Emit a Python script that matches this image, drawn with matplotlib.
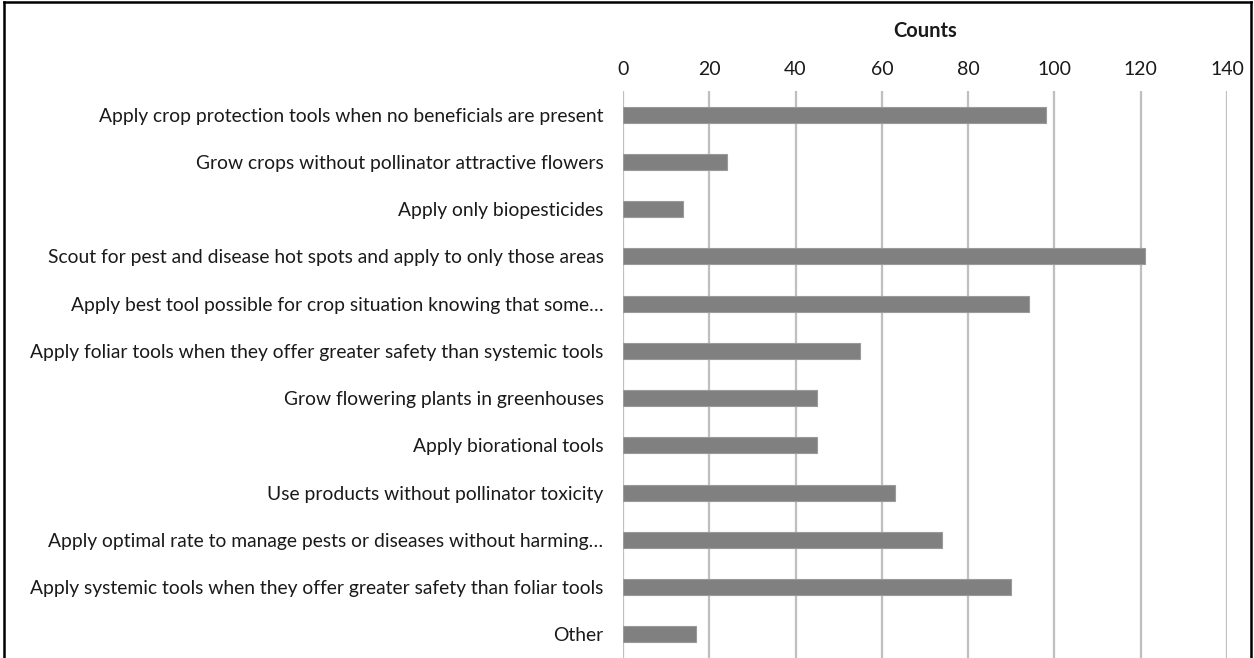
import matplotlib
matplotlib.use("Agg")
import matplotlib.pyplot as plt

categories = [
    "Apply crop protection tools when no beneficials are present",
    "Grow crops without pollinator attractive flowers",
    "Apply only biopesticides",
    "Scout for pest and disease hot spots and apply to only those areas",
    "Apply best tool possible for crop situation knowing that some\u2026",
    "Apply foliar tools when they offer greater safety than systemic tools",
    "Grow flowering plants in greenhouses",
    "Apply biorational tools",
    "Use products without pollinator toxicity",
    "Apply optimal rate to manage pests or diseases without harming\u2026",
    "Apply systemic tools when they offer greater safety than foliar tools",
    "Other",
]
counts = [98, 24, 14, 121, 94, 55, 45, 45, 63, 74, 90, 17]
xticks = [0, 20, 40, 60, 80, 100, 120, 140]
axis_title = "Counts"

plt.rcParams['font.family'] = ['Lato', 'DejaVu Sans']

fig = plt.figure(figsize=(12.54, 6.58), dpi=100)
ax = fig.add_axes([0.4968, 0.0, 0.9785 - 0.4968, 0.8617])

y = list(range(len(categories)))
ax.barh(y, counts, height=0.34, color="#808080", edgecolor="#9a9a9a", linewidth=0.8, zorder=3)
ax.set_ylim(len(categories) - 0.5, -0.5)
ax.set_xlim(0, 140)
ax.set_xticks(xticks)
ax.set_yticks(y)
ax.set_yticklabels(categories, fontsize=13.85, color="#1a1a1a")
ax.xaxis.tick_top()
ax.xaxis.set_label_position("top")
ax.set_xlabel(axis_title, fontsize=14.5, fontweight="bold", labelpad=17, color="#1a1a1a")
ax.tick_params(axis="x", length=0, pad=9.5, labelsize=14, labelcolor="#1a1a1a")
ax.tick_params(axis="y", length=0, pad=14)
ax.grid(axis="x", color="#bfbfbf", linewidth=1.6, zorder=0)
for s in ax.spines.values():
    s.set_visible(False)

# figure frame: left, top, right sides only
frame_kw = dict(color="black", linewidth=1.8, transform=fig.transFigure, zorder=10)
fig.add_artist(plt.Line2D([0.003, 0.003], [0.0, 0.997], **frame_kw))
fig.add_artist(plt.Line2D([0.003, 0.998], [0.997, 0.997], **frame_kw))
fig.add_artist(plt.Line2D([0.998, 0.998], [0.0, 0.997], **frame_kw))

fig.savefig("out.png", dpi=100)
